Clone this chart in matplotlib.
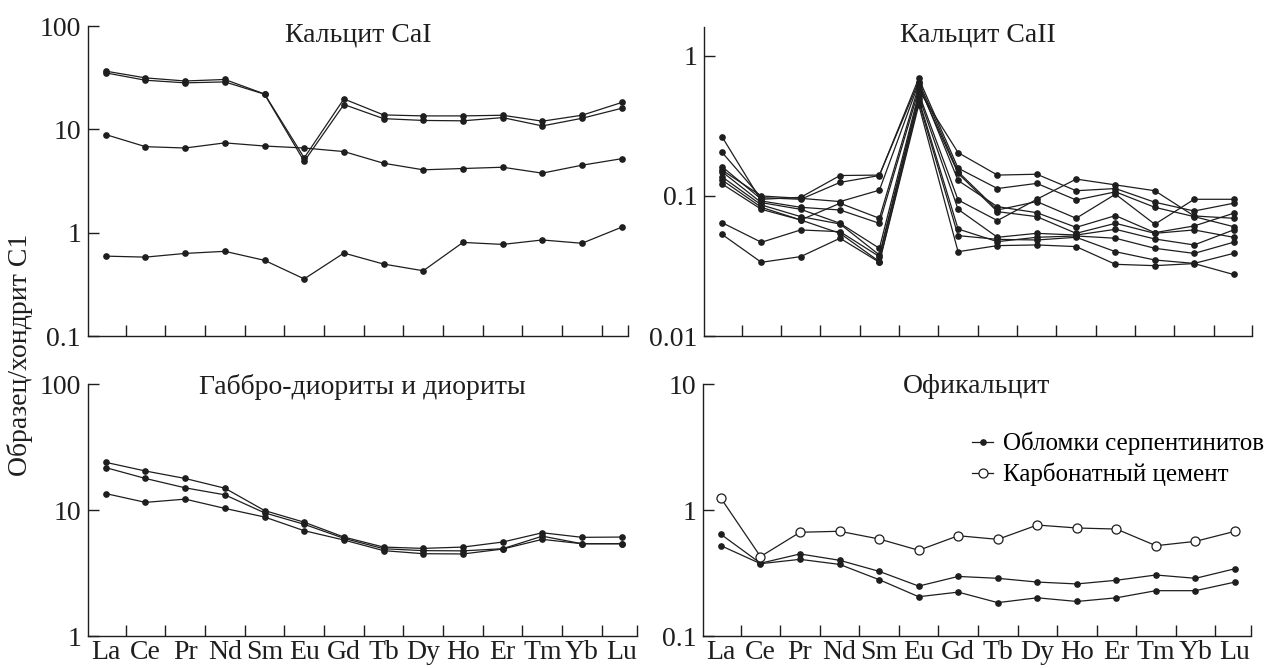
import matplotlib
matplotlib.use("Agg")
import matplotlib.pyplot as plt
from matplotlib.lines import Line2D

elements = ["La", "Ce", "Pr", "Nd", "Sm", "Eu", "Gd", "Tb", "Dy", "Ho", "Er", "Tm", "Yb", "Lu"]

# Кальцит CaI
cal1 = [
    [36.6, 31.5, 29.4, 30.4, 22.0, 5.3, 19.7, 13.8, 13.5, 13.5, 13.7, 12.0, 13.7, 18.2],
    [35.2, 29.9, 28.2, 28.8, 21.9, 4.9, 17.4, 12.7, 12.2, 12.1, 13.0, 10.8, 12.8, 16.0],
    [8.9, 6.8, 6.6, 7.4, 6.9, 6.6, 6.1, 4.7, 4.06, 4.18, 4.3, 3.77, 4.5, 5.2],
    [0.593, 0.58, 0.63, 0.66, 0.54, 0.357, 0.635, 0.497, 0.428, 0.805, 0.77, 0.85, 0.79, 1.13],
]

# Кальцит CaII
cal2 = [
    [0.265, 0.0921, 0.083, 0.0794, 0.0638, 0.572, 0.204, 0.141, 0.143, 0.109, 0.113, 0.0902, 0.0781, 0.0887],
    [0.205, 0.0973, 0.0947, 0.125, 0.140, 0.693, 0.158, 0.113, 0.123, 0.0936, 0.107, 0.083, 0.0712, 0.0604],
    [0.162, 0.0947, 0.0978, 0.140, 0.141, 0.656, 0.149, 0.0794, 0.0912, 0.0693, 0.103, 0.0628, 0.0947, 0.0947],
    [0.153, 0.100, 0.0962, 0.0912, 0.110, 0.638, 0.129, 0.0839, 0.076, 0.0597, 0.0724, 0.0547, 0.0611, 0.0752],
    [0.149, 0.0896, 0.0803, 0.0638, 0.0423, 0.541, 0.0936, 0.0667, 0.0947, 0.132, 0.120, 0.109, 0.072, 0.0693],
    [0.137, 0.0863, 0.0712, 0.0631, 0.0379, 0.518, 0.0803, 0.0507, 0.0541, 0.0526, 0.0578, 0.0493, 0.0447, 0.0572],
    [0.130, 0.083, 0.0674, 0.0541, 0.034, 0.472, 0.0521, 0.049, 0.0485, 0.0507, 0.040, 0.0349, 0.033, 0.0389],
    [0.122, 0.0803, 0.0674, 0.0887, 0.0693, 0.611, 0.145, 0.0773, 0.0712, 0.0541, 0.0638, 0.0541, 0.0572, 0.0507],
    [0.0645, 0.0467, 0.0572, 0.0556, 0.0369, 0.490, 0.0581, 0.0472, 0.0507, 0.0518, 0.0499, 0.0423, 0.0389, 0.0467],
    [0.0532, 0.0336, 0.0369, 0.0499, 0.0336, 0.447, 0.040, 0.0442, 0.0447, 0.0435, 0.0325, 0.0318, 0.0329, 0.0275],
]

# Габбро-диориты и диориты
gabbro = [
    [23.9, 20.4, 17.8, 14.9, 9.9, 8.0, 6.1, 5.08, 4.96, 5.08, 5.57, 6.6, 6.07, 6.1],
    [21.7, 17.8, 15.0, 13.2, 9.5, 7.7, 5.96, 4.93, 4.76, 4.74, 4.93, 6.2, 5.4, 5.4],
    [13.5, 11.5, 12.2, 10.3, 8.8, 6.85, 5.78, 4.76, 4.5, 4.48, 4.9, 5.85, 5.4, 5.4],
]

# Офикальцит
serpentinite = [
    [0.641, 0.378, 0.448, 0.399, 0.326, 0.249, 0.297, 0.287, 0.268, 0.259, 0.277, 0.305, 0.287, 0.342],
    [0.521, 0.375, 0.406, 0.370, 0.280, 0.205, 0.223, 0.184, 0.201, 0.188, 0.201, 0.229, 0.229, 0.268],
]
cement = [1.24, 0.427, 0.666, 0.678, 0.589, 0.479, 0.625, 0.585, 0.76, 0.72, 0.706, 0.521, 0.564, 0.678]

INK = "#1e1e1e"
FS = 20


def setup_axes(ax, ylim, yticks, ylabels, xright, title, title_y, show_x):
    ax.set_yscale("log")
    ax.set_ylim(*ylim)
    ax.set_xlim(-0.45, xright)
    ax.spines["top"].set_visible(False)
    ax.spines["right"].set_visible(False)
    for side in ("left", "bottom"):
        ax.spines[side].set_linewidth(1.0)
        ax.spines[side].set_color(INK)
    ax.set_yticks(yticks)
    ax.set_yticklabels(ylabels)
    ax.yaxis.set_minor_locator(plt.NullLocator())
    ax.tick_params(axis="y", direction="in", length=8, width=1.0, labelsize=FS, pad=5, colors=INK)
    ticks = [i + 0.5 for i in range(13)] + [xright]
    ax.set_xticks(ticks)
    ax.set_xticklabels([])
    ax.tick_params(axis="x", which="major", direction="in", length=8, width=1.0, colors=INK)
    ax.set_xticks(range(len(elements)), minor=True)
    if show_x:
        ax.set_xticklabels(elements, minor=True)
    else:
        ax.set_xticklabels([], minor=True)
    ax.tick_params(axis="x", which="minor", length=0, labelsize=FS, pad=3, colors=INK)
    ax.text(0.5, title_y, title, transform=ax.transAxes, ha="center", va="center",
            fontsize=FS, color=INK)


def draw_filled(ax, series):
    x = range(len(elements))
    for s in series:
        ax.plot(x, s, color=INK, lw=0.9, marker="o", ms=3.8, mfc=INK, mec=INK)


def main() -> None:
    plt.rcParams["font.family"] = ["Liberation Serif", "DejaVu Serif"]
    fig = plt.figure(figsize=(12.69, 6.68), dpi=100)

    ax1 = fig.add_axes([0.0693, 0.497, 0.4259, 0.464])
    ax2 = fig.add_axes([0.555, 0.497, 0.4313, 0.4626])
    ax3 = fig.add_axes([0.0693, 0.0479, 0.4325, 0.3772])
    ax4 = fig.add_axes([0.5541, 0.0479, 0.4316, 0.3772])

    draw_filled(ax1, cal1)
    setup_axes(ax1, (0.1, 100), [0.1, 1, 10, 100], ["0.1", "1", "10", "100"], 13.17,
               "Кальцит CaI", 0.972, False)

    draw_filled(ax2, cal2)
    setup_axes(ax2, (0.01, 1.61), [0.01, 0.1, 1], ["0.01", "0.1", "1"], 13.46,
               "Кальцит CaII", 0.975, False)

    draw_filled(ax3, gabbro)
    setup_axes(ax3, (1, 100), [1, 10, 100], ["1", "10", "100"], 13.38,
               "Габбро-диориты и диориты", 0.99, True)

    draw_filled(ax4, serpentinite)
    ax4.plot(range(len(elements)), cement, color=INK, lw=0.9, marker="o", ms=6.5,
             mfc="white", mec=INK, mew=0.9)
    setup_axes(ax4, (0.1, 10), [0.1, 1, 10], ["0.1", "1", "10"], 13.4,
               "Офикальцит", 0.99, True)

    handles = [
        Line2D([], [], color=INK, lw=0.9, marker="o", ms=3.8, mfc=INK, mec=INK),
        Line2D([], [], color=INK, lw=0.9, marker="o", ms=6.5, mfc="white", mec=INK, mew=0.9),
    ]
    fig.legend(handles, ["Обломки серпентинитов", "Карбонатный цемент"],
               loc="center left", bbox_to_anchor=(972 / 1269, 1 - 459 / 668),
               frameon=False, fontsize=18, handlelength=0.85, handletextpad=0.4,
               labelspacing=0.3, borderpad=0, borderaxespad=0)

    fig.text(20 / 1269, 1 - 355 / 668, "Образец/хондрит C1", rotation=90,
             ha="center", va="center", fontsize=FS, color=INK)

    fig.savefig("out.png", dpi=100)
    plt.close(fig)


if __name__ == "__main__":
    main()
